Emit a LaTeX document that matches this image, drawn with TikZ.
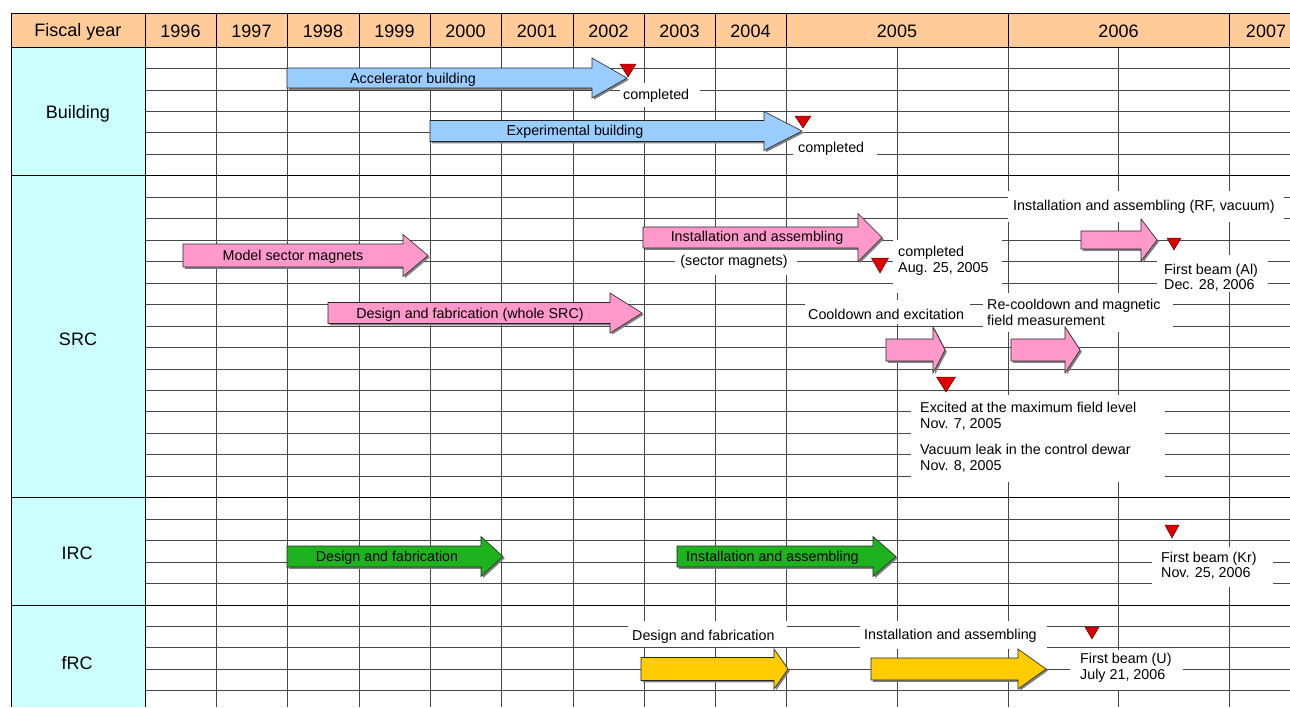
\documentclass[tikz,border=0pt]{standalone}
\usepackage{fontspec}
\setmainfont{Liberation Sans}
\usetikzlibrary{shadows}
\definecolor{hdrorange}{HTML}{FFCC99}
\definecolor{sectcyan}{HTML}{CCFFFF}
\definecolor{barblue}{HTML}{99CCFF}
\definecolor{barpink}{HTML}{FF99CC}
\definecolor{bargreen}{HTML}{1FB21F}
\definecolor{baryellow}{HTML}{FFCC00}
\definecolor{markred}{HTML}{DD0000}
\newcommand{\ganttbar}[7]{\filldraw[gbar,fill=#1] (#2,{#5-#6}) -- (#3,{#5-#6}) -- (#3,{#5-#7}) -- (#4,#5) -- (#3,{#5+#7}) -- (#3,{#5+#6}) -- (#2,{#5+#6}) -- cycle;}
\newcommand{\redmark}[4]{\filldraw[redtri] ({#1-#4},#2) -- ({#1+#4},#2) -- (#1,#3) -- cycle;}

\begin{document}
\begin{tikzpicture}[x=1pt,y=-1pt,
  every node/.style={font=\fontsize{14.3}{15.5}\selectfont,inner sep=0pt,yshift=-1.8pt},
  hdr/.style={font=\fontsize{18}{20}\selectfont},
  gridline/.style={line width=.8pt,black!72},
  edge/.style={line width=.9pt,black},
  gbar/.style={draw=black!85,line width=.6pt,drop shadow={shadow xshift=1.8pt,shadow yshift=-1.8pt,fill=black!50,opacity=1}},
  redtri/.style={draw=black!60!red,fill=markred,line width=.5pt},
  lbl/.style={anchor=west,align=left}]
\clip (0,0) rectangle (1290,707);
\fill[hdrorange] (11,13) rectangle (1290,47);
\fill[sectcyan] (11,47) rectangle (145,707);
\foreach \k in {1,...,31} \draw[gridline] (145,{47+21.46*\k}) -- (1290,{47+21.46*\k});
\foreach \x in {216,287,359,430,501,573,644,715,786,897,1008,1118,1229} \draw[gridline] (\x,47) -- (\x,707);
\foreach \x in {216,287,359,430,501,573,644,715,786,1008,1229} \draw[edge] (\x,13) -- (\x,47);
\draw[edge] (11,13) -- (1290,13);
\draw[edge] (11,47) -- (1290,47);
\draw[edge] (11,175.8) -- (1290,175.8);
\draw[edge] (11,497.7) -- (1290,497.7);
\draw[edge] (11,605) -- (1290,605);
\draw[edge] (11,13) -- (11,707);
\draw[edge] (145,13) -- (145,707);

\fill[white] (620,83) rectangle (700,107);
\fill[white] (793,134) rectangle (877,160);
\fill[white] (675,250) rectangle (797,275);
\fill[white] (893,240) rectangle (1002,293);
\fill[white] (805,300) rectangle (970,324);
\fill[white] (983,293) rectangle (1173,332);
\fill[white] (1008,191) rectangle (1284,222);
\fill[white] (1157,255) rectangle (1268,292);
\fill[white] (911,395) rectangle (1165,482);
\fill[white] (1152,547) rectangle (1273,587);
\fill[white] (628,621) rectangle (787,647);
\fill[white] (860,621) rectangle (1047,649);
\fill[white] (1070,650) rectangle (1183,690);

\ganttbar{barblue}{287}{592}{627}{78}{10}{20}
\ganttbar{barblue}{430}{764}{802}{131}{10.5}{19.5}
\ganttbar{barpink}{183}{403}{428}{255.5}{11.5}{21}
\ganttbar{barpink}{328}{610}{642}{313}{10.5}{20}
\ganttbar{barpink}{643}{858}{882}{237.5}{10.5}{24}
\ganttbar{barpink}{886}{933}{945}{350}{11}{23}
\ganttbar{barpink}{1011}{1065}{1080}{350}{11}{23}
\ganttbar{barpink}{1081}{1141}{1157}{240}{9}{21}
\ganttbar{bargreen}{287}{481}{503}{556.5}{10.5}{20}
\ganttbar{bargreen}{677}{873}{896}{556.5}{10.5}{20}
\ganttbar{baryellow}{641}{774}{788}{669}{11.5}{20}
\ganttbar{baryellow}{871}{1018}{1046}{669}{11}{20}

\redmark{628}{64}{77}{8}
\redmark{803}{116}{128}{8}
\redmark{880}{258}{273}{8.5}
\redmark{1174}{238}{250}{7}
\redmark{946}{377}{392}{9.5}
\redmark{1172}{525}{538}{7}
\redmark{1092}{627}{639}{7}

\node[hdr] (fy) at (78,30) {Fiscal year};
\foreach \yr/\x in {1996/180.5,1997/251.5,1998/323,1999/394.5,2000/465.5,2001/537,2002/608.5,2003/679.5,2004/750.5,2005/897,2006/1118.5,2007/1266}
  \node[hdr] (y\yr) at (\x,30) {\yr};
\node[hdr] (bldg) at (78,112) {Building};
\node[hdr] (src) at (78,337) {SRC};
\node[hdr] (irc) at (77,551) {IRC};
\node[hdr] (frc) at (77,661) {fRC};

\node (accbar) at (413,78) {Accelerator building};
\node (expbar) at (575,130) {Experimental building};
\node (modbar) at (293,255) {Model sector magnets};
\node (dfsrc) at (470,313) {Design and fabrication (whole SRC)};
\node (iasrc) at (757,236) {Installation and assembling};
\node (dfirc) at (387,556) {Design and fabrication};
\node[lbl] (iairc) at (686,556) {Installation and assembling};

\node[lbl] (acccomp) at (623,94) {completed};
\node[lbl] (expcomp) at (798,147) {completed};
\node (secmag) at (734,260) {(sector magnets)};
\node[lbl] (srccomp) at (898,259) {completed\\Aug. 25, 2005};
\node[lbl] (cool) at (808,313) {Cooldown and excitation};
\node[lbl] (recool) at (987,310.5) {Re-cooldown and magnetic\\field measurement};
\node[lbl] (rfvac) at (1013,205) {Installation and assembling (RF, vacuum)};
\node[lbl] (beamal) at (1164,276) {First beam (Al)\\Dec. 28, 2006};
\node[lbl] (excited) at (920,414.5) {Excited at the maximum field level\\Nov. 7, 2005};
\node[lbl] (leak) at (920,456.5) {Vacuum leak in the control dewar\\Nov. 8, 2005};
\node[lbl] (beamkr) at (1161,564) {First beam (Kr)\\Nov. 25, 2006};
\node[lbl] (dffrc) at (632,635) {Design and fabrication};
\node[lbl] (iafrc) at (864,634) {Installation and assembling};
\node[lbl] (beamu) at (1080,666) {First beam (U)\\July 21, 2006};
\end{tikzpicture}
\end{document}
